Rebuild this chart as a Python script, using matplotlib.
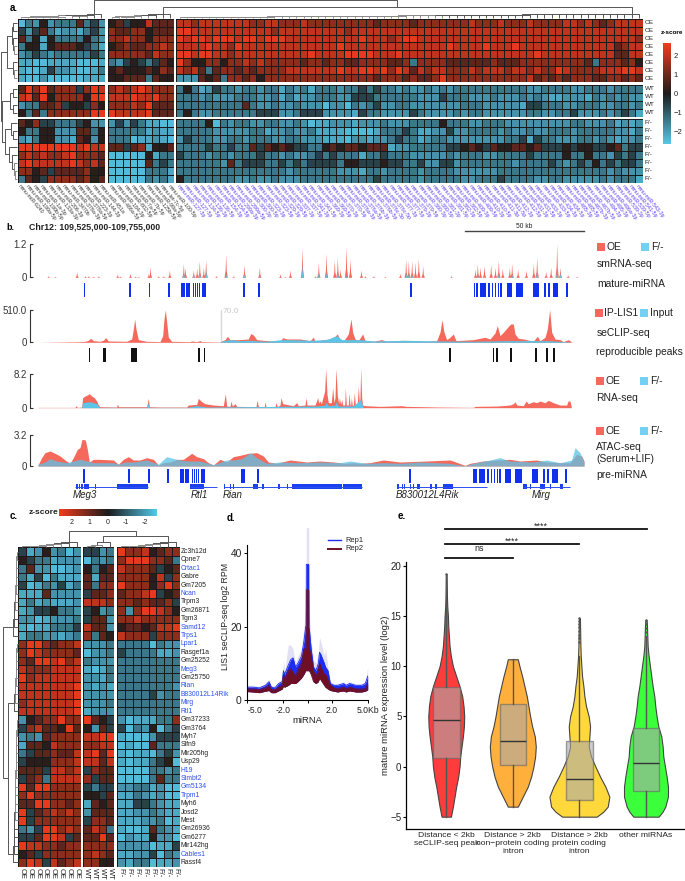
import numpy as np
import matplotlib
matplotlib.use('Agg')
import matplotlib.pyplot as plt
from matplotlib.colors import LinearSegmentedColormap
from matplotlib.patches import Rectangle

plt.rcParams['font.family'] = ['Liberation Sans', 'DejaVu Sans']

W, H = 685, 881

# z-score read for each colour step of the heatmap cells
LEVELS = [-2.5, -2.2, -1.85, -1.45, -0.6, 0.15, 0.8, 1.4, 2.0, 2.5]

# panel a, one string per sample, columns in three blocks
a_rows = ['OE', 'OE', 'OE', 'OE', 'OE', 'OE', 'OE', 'OE', 'WT', 'WT', 'WT', 'WT',
          'F/-', 'F/-', 'F/-', 'F/-', 'F/-', 'F/-', 'F/-', 'F/-']
a_block1 = ['032523336342', '424631221342', '635153333532', '355156665431', '234323333343',
            '110011110001', '100142210013', '100200000111',
            '697967774798', '896957777599', '233667455475', '536377777799',
            '657443334522', '533552226635', '213552216525', '999999998988',
            '787877897776', '898888898786', '775646666755', '365477776756']
a_block2 = ['564558666', '766775666', '778775777', '567667787', '777776877',
            '324543465', '565556576', '556663655',
            '787898777', '888988977', '777879666', '988889666',
            '242431100', '333331211', '333011210', '664671556',
            '000005133', '000006343', '000003331', '000003231']
a_block3 = ['8878888888 7788777877 7777777677 7767777777 8777877787 7778878767 8888',
            '9988888888 8887888888 8887888888 8888888888 8888888888 8888888888 8888',
            '9899899989 9899988888 8888898887 8998888888 8888888888 8888888888 8887',
            '8888988798 8888888888 8898888888 8888888988 8898889888 8888888888 6788',
            '9989988788 8888888898 8889999888 9888888888 8888888889 8888888888 6688',
            '9755775778 7877777677 6776677776 6737777666 6667666777 7777776377 7675',
            '8786367767 6777788888 8898899897 9868788777 8788878878 7798777788 8998',
            '2226563776 7577777777 7777777677 7676679777 7777777786 7676777667 7676',
            '3531243323 3233132313 3323343433 2322323233 3333333322 3333223332 3333',
            '3332322233 3223131223 3322444333 3332224333 2223222323 2112221323 2322',
            '3333333336 3223223222 0220323422 3322222223 3322222144 3332233322 3323',
            '3532233333 3444223444 2222143322 2243222232 3322222233 2233422232 3431',
            '3333503233 2233223201 1222122232 2233335333 2233322222 2222332223 1212',
            '3333322222 3312232231 1110000133 3431122422 3333232232 2333233333 2213',
            '2433322332 3332233222 1110221223 4331233222 2222233414 3322233232 1223',
            '3333433433 6465654433 5656656661 2233333445 6546556656 4445455445 6344',
            '4333233233 3433232234 3433313343 3322222323 3322333343 3335335332 4343',
            '3333332634 4433434344 4435544454 4334224423 3333332333 3432343534 3443',
            '3333333333 3333323333 3322213323 3332333322 2222333333 3333333332 3222',
            '5333333322 3223222333 3333333433 3332333332 2333433332 2332222232 3331']
a_cols_black = ['mmu-miR-6240', 'mmu-miR-199a-5p', 'mmu-miR-199b-5p', 'mmu-miR-1a-3p', 'mmu-miR-133a-3p',
                'mmu-miR-206-3p', 'mmu-miR-3470b', 'mmu-miR-378a-3p', 'mmu-miR-378a-5p', 'mmu-miR-223-3p',
                'mmu-miR-144-3p', 'mmu-miR-451a', 'mmu-miR-486a-5p', 'mmu-miR-184-3p', 'mmu-miR-802-5p',
                'mmu-miR-7a-5p', 'mmu-miR-7b-5p', 'mmu-miR-125b-5p', 'mmu-miR-99a-5p', 'mmu-let-7c-5p',
                'mmu-miR-100-5p']
a_cols_blue = ['mmu-miR-127-3p', 'mmu-miR-127-5p', 'mmu-miR-134-5p', 'mmu-miR-136-3p', 'mmu-miR-136-5p',
               'mmu-miR-154-3p', 'mmu-miR-154-5p', 'mmu-miR-299a-3p', 'mmu-miR-299a-5p', 'mmu-miR-300-3p',
               'mmu-miR-300-5p', 'mmu-miR-323-3p', 'mmu-miR-323-5p', 'mmu-miR-329-3p', 'mmu-miR-329-5p',
               'mmu-miR-337-3p', 'mmu-miR-337-5p', 'mmu-miR-341-3p', 'mmu-miR-341-5p', 'mmu-miR-369-3p',
               'mmu-miR-369-5p', 'mmu-miR-370-3p', 'mmu-miR-370-5p', 'mmu-miR-376a-3p', 'mmu-miR-376a-5p',
               'mmu-miR-376b-3p', 'mmu-miR-376b-5p', 'mmu-miR-376c-3p', 'mmu-miR-376c-5p', 'mmu-miR-377-3p',
               'mmu-miR-377-5p', 'mmu-miR-379-3p', 'mmu-miR-379-5p', 'mmu-miR-380-3p', 'mmu-miR-380-5p',
               'mmu-miR-381-3p', 'mmu-miR-381-5p', 'mmu-miR-382-3p', 'mmu-miR-382-5p', 'mmu-miR-409-3p',
               'mmu-miR-409-5p', 'mmu-miR-410-3p', 'mmu-miR-410-5p', 'mmu-miR-411-3p', 'mmu-miR-411-5p',
               'mmu-miR-412-3p', 'mmu-miR-412-5p', 'mmu-miR-431-3p', 'mmu-miR-431-5p', 'mmu-miR-433-3p',
               'mmu-miR-433-5p', 'mmu-miR-434-3p', 'mmu-miR-434-5p', 'mmu-miR-485-3p', 'mmu-miR-485-5p',
               'mmu-miR-487b-3p', 'mmu-miR-487b-5p', 'mmu-miR-494-3p', 'mmu-miR-495-3p', 'mmu-miR-496a-3p',
               'mmu-miR-539-3p', 'mmu-miR-539-5p', 'mmu-miR-541-5p', 'mmu-miR-543-3p']

# panel c, genes by samples
c_genes = ['Zc3h12d', 'Cpne7', 'Crtac1', 'Gabre', 'Gm7205', 'Ncan', 'Trpm3', 'Gm26871', 'Tgm3', 'Samd12', 'Trps1',
           'Lpar1', 'Rasgef1a', 'Gm25252', 'Meg3', 'Gm25750', 'Rian', 'B830012L14Rik', 'Mirg', 'Rtl1',
           'Gm37233', 'Gm3764', 'Myh7', 'Slfn9', 'Mir205hg', 'Usp29', 'H19', 'Stmbt2', 'Gm5134', 'Trpm1',
           'Myh6', 'Josd2', 'Mest', 'Gm26936', 'Gm6277', 'Mir142hg', 'Cables1', 'Rassf4']
c_blue = ['Crtac1', 'Ncan', 'Samd12', 'Trps1', 'Lpar1', 'Meg3', 'Rian', 'B830012L14Rik', 'Mirg', 'Rtl1',
          'H19', 'Stmbt2', 'Gm5134', 'Trpm1', 'Cables1']
c_samples = ['OE'] * 8 + ['WT'] * 4 + ['F/-'] * 8
c_values = ['41252302 4423 97785677', '54331222 0323 79997763', '36220012 5356 87776456',
            '31403111 6166 77775847', '40132413 6377 97775797', '11162222 4667 67789456',
            '13121112 8887 77676674', '12445332 4523 72799875', '22012223 4662 77877777',
            '10113334 8662 56656889', '13322123 7365 87774777',
            '79976778 2223 33330322', '79877776 0223 43333112', '76998978 3222 33333333',
            '87778888 1013 33333333', '97888888 2213 33333333', '88888889 2121 33333332',
            '88888889 2222 33334233', '78888889 2223 33333333', '88888889 1222 33333333',
            '25677977 9654 20111337', '47866596 5264 40325034', '23267777 8899 10002444',
            '16658777 7788 01006333', '34667668 8969 10110342', '45557778 8868 10113450',
            '66648878 4766 00003323', '46738888 7466 00003633', '96997777 4344 22331200',
            '79777777 5546 11321200', '66997767 1656 11443211', '94678787 2666 11223211',
            '94777777 4776 11122301', '32499787 6873 10016321', '44699846 6696 02115220',
            '98877677 7777 22220114', '56477777 7876 11224032', '79848678 7755 21330112']

# panel b, tracks in signal units of the track height, position along the locus
sm_oe_pos = [145, 165, 230, 255, 265, 280, 295, 352, 360, 390, 405, 415, 445, 450, 475, 490, 508, 550, 555, 580, 590,
             598, 610, 617, 648, 677, 700, 732, 778, 840, 855, 870, 906, 945, 955, 978, 1003, 1012, 1020, 1038, 1050,
             1083, 1095, 1120, 1155, 1200, 1217, 1225, 1235, 1245, 1255, 1268, 1353, 1425, 1432, 1440, 1452, 1472,
             1485, 1495, 1507, 1528, 1535, 1553, 1578, 1600, 1610, 1637, 1652, 1670, 1680, 1703, 1730]
sm_oe_val = [5, 3, 17, 5, 5, 4, 5, 10, 4, 12, 4, 3, 12, 32, 5, 5, 22, 42, 30, 22, 28, 50, 30, 52, 5, 70, 5, 38, 30, 10,
             3, 22, 88, 5, 45, 72, 52, 60, 25, 92, 55, 22, 5, 5, 3, 12, 55, 50, 50, 45, 58, 35, 5, 25, 40, 30, 35, 40,
             30, 52, 28, 30, 42, 25, 22, 42, 60, 18, 30, 100, 30, 8, 3]
sm_ko_pos = [550, 580, 598, 617, 677, 732, 778, 906, 955, 978, 1012, 1038, 1217, 1225, 1235, 1432, 1495, 1535, 1610,
             1670, 1680]
sm_ko_val = [20, 12, 18, 28, 12, 10, 8, 38, 15, 15, 28, 5, 18, 12, 10, 10, 10, 10, 25, 25, 15]

clip_ip_pos = [114, 240, 255, 265, 272, 280, 300, 310, 317, 325, 380, 395, 400, 404, 408, 415, 440, 480, 488, 492, 496,
               500, 505, 515, 570, 575, 590, 600, 605, 660, 665, 675, 682, 690, 720, 745, 752, 760, 770, 800, 840, 848,
               860, 900, 930, 940, 945, 970, 990, 1005, 1012, 1018, 1025, 1030, 1045, 1053, 1058, 1065, 1075, 1088,
               1095, 1120, 1145, 1160, 1205, 1280, 1310, 1320, 1326, 1332, 1340, 1350, 1360, 1368, 1420, 1455, 1470,
               1485, 1492, 1500, 1510, 1527, 1532, 1540, 1545, 1555, 1570, 1600, 1612, 1620, 1635, 1642, 1649, 1655,
               1665, 1680, 1690, 1705, 1715]
clip_ip_val = [0, 2, 3, 6, 12, 5, 3, 6, 14, 4, 3, 10, 40, 70, 40, 8, 3, 2, 20, 70, 97, 60, 15, 3, 2, 4, 2, 5, 2, 1, 4,
               8, 18, 8, 8, 10, 26, 22, 8, 5, 2, 14, 10, 10, 5, 15, 4, 8, 10, 18, 25, 12, 5, 3, 25, 70, 30, 10, 5, 25,
               5, 3, 8, 3, 6, 3, 5, 30, 68, 30, 8, 15, 25, 5, 8, 15, 10, 28, 50, 20, 30, 50, 55, 55, 25, 12, 10, 3,
               18, 5, 15, 40, 98, 30, 10, 8, 2, 8, 1]
clip_in_pos = [660, 670, 690, 720, 745, 800, 845, 900, 930, 980, 1010, 1025, 1080, 1120, 1220, 1320, 1420, 1520, 1645, 1710]
clip_in_val = [1, 5, 8, 5, 6, 3, 8, 7, 6, 8, 20, 8, 8, 4, 6, 4, 3, 5, 5, 1]

rna_oe_pos = [114, 225, 228, 232, 245, 248, 255, 262, 268, 275, 283, 290, 295, 300, 350, 352, 356, 440, 445, 448, 480,
              560, 565, 590, 595, 605, 615, 640, 670, 676, 680, 690, 693, 697, 705, 710, 768, 771, 775, 793, 795, 798,
              825, 828, 832, 840, 843, 848, 880, 890, 895, 915, 918, 921, 945, 953, 956, 960, 964, 970, 974, 977, 981,
              985, 994, 998, 1002, 1005, 1008, 1012, 1016, 1018, 1022, 1025, 1028, 1034, 1036, 1039, 1045, 1047, 1050,
              1052, 1054, 1057, 1060, 1063, 1066, 1072, 1075, 1078, 1080, 1082, 1085, 1088, 1095, 1140, 1205, 1220,
              1320, 1420, 1425, 1490, 1530, 1540, 1545, 1550, 1570, 1578, 1585, 1600, 1610, 1620, 1635, 1645, 1660,
              1680, 1700, 1704, 1710, 1714]
rna_oe_val = [1, 1, 6, 1, 2, 30, 35, 38, 42, 35, 30, 20, 8, 3, 2, 10, 3, 3, 28, 3, 2, 2, 8, 10, 28, 18, 12, 8, 6, 42,
              5, 4, 20, 5, 12, 4, 3, 22, 4, 3, 18, 3, 3, 15, 3, 8, 30, 12, 6, 15, 6, 8, 30, 8, 8, 30, 14, 20, 12, 35,
              50, 118, 40, 15, 15, 60, 15, 30, 118, 35, 12, 30, 10, 25, 8, 8, 60, 8, 8, 45, 8, 8, 30, 6, 8, 45, 8, 15,
              65, 12, 30, 118, 30, 8, 6, 4, 6, 4, 2, 1, 4, 5, 8, 12, 18, 8, 6, 20, 12, 18, 15, 20, 15, 22, 15, 8, 8,
              20, 20, 1]
rna_ko_pos = [245, 248, 270, 290, 298, 440, 445, 448, 560, 590, 620, 950, 975, 978, 985, 1005, 1008, 1015, 1060, 1082,
              1090]
rna_ko_val = [1, 15, 18, 12, 1, 1, 15, 1, 1, 6, 2, 5, 8, 16, 6, 8, 18, 5, 5, 25, 1]

atac_oe_pos = [114, 125, 135, 150, 165, 180, 195, 210, 220, 232, 240, 246, 256, 262, 268, 280, 300, 340, 355, 370, 385,
               400, 420, 440, 460, 475, 490, 510, 530, 550, 575, 590, 610, 625, 640, 660, 680, 700, 720, 745, 770, 790,
               805, 830, 870, 920, 960, 1000, 1035, 1060, 1080, 1110, 1150, 1200, 1280, 1350, 1395, 1410, 1450, 1490,
               1530, 1560, 1610, 1640, 1680, 1710, 1730, 1745, 1752]
atac_oe_val = [3, 25, 40, 45, 38, 30, 18, 8, 25, 50, 55, 80, 78, 50, 12, 20, 20, 18, 5, 20, 28, 18, 18, 25, 20, 3, 10,
               12, 20, 20, 38, 28, 22, 10, 3, 20, 12, 28, 32, 38, 40, 30, 12, 8, 18, 12, 15, 12, 8, 10, 8, 10, 18, 12,
               15, 18, 2, 8, 15, 18, 20, 15, 18, 12, 10, 10, 35, 30, 15]
atac_ko_pos = [114, 135, 150, 170, 200, 240, 262, 280, 340, 355, 375, 400, 440, 475, 500, 530, 560, 600, 625, 640, 680,
               700, 725, 752, 770, 800, 840, 900, 960, 1020, 1050, 1100, 1150, 1200, 1260, 1350, 1395, 1420, 1470, 1500,
               1530, 1600, 1640, 1680, 1715, 1725, 1740, 1752]
atac_ko_val = [5, 12, 22, 15, 10, 20, 15, 10, 10, 5, 12, 12, 18, 5, 28, 20, 15, 15, 8, 4, 18, 18, 22, 40, 25, 8, 12,
               10, 12, 10, 15, 8, 10, 8, 12, 8, 1, 8, 18, 25, 15, 12, 18, 10, 18, 55, 40, 12]

mature_pos = [253, 390, 449, 508, 549, 564, 580, 586, 592, 598, 612, 732, 778, 1233, 1424, 1431, 1449, 1468, 1477,
              1486, 1495, 1503, 1528, 1553, 1565, 1608, 1635, 1648, 1668, 1701]
mature_w = [5, 5, 5, 5, 10, 11, 4, 4, 4, 4, 12, 8, 5, 5, 5, 5, 18, 5, 4, 4, 4, 4, 16, 12, 9, 17, 6, 6, 15, 5]
pre_pos = [251, 387, 446, 505, 547, 561, 577, 583, 589, 595, 610, 729, 775, 1231, 1421, 1428, 1446, 1465, 1474,
           1483, 1492, 1500, 1525, 1550, 1562, 1605, 1632, 1645, 1665, 1699]
pre_w = [6, 6, 6, 6, 11, 12, 4, 4, 4, 4, 12, 10, 6, 6, 6, 6, 19, 6, 4, 4, 4, 4, 17, 12, 10, 19, 6, 6, 16, 6]
peak_pos = [269, 314, 402, 597, 614, 1351, 1481, 1491, 1533, 1608, 1642, 1662]
peak_w = [5, 10, 17, 5, 5, 5, 5, 5, 5, 5, 5, 5]

gene_spans = {'Meg3': (225, 445), 'Rtl1': (570, 650), 'Rian': (672, 1085), 'B830012L4Rik': (1190, 1460),
              'Mirg': (1570, 1710)}
gene_exons = {'Meg3': [(228, 5), (236, 4), (244, 6), (252, 8), (260, 6), (285, 4), (350, 95)],
              'Rtl1': [(570, 42)],
              'Rian': [(672, 2), (680, 2), (690, 2), (700, 2), (760, 15), (785, 8), (835, 4), (860, 4), (877, 50),
                       (927, 100), (1030, 15), (1045, 40)],
              'B830012L4Rik': [(1190, 8), (1205, 3), (1212, 2), (1220, 2), (1230, 3), (1240, 2), (1250, 10),
                               (1290, 6), (1305, 6), (1328, 30)],
              'Mirg': [(1570, 12), (1590, 4), (1620, 14), (1650, 4), (1680, 10)]}

# panel d
d_kb = [-5, -4.5, -4, -3.5, -3.2, -3, -2.7, -2.4, -2.1, -2, -1.9, -1.6, -1.4, -1.2, -1, -0.8, -0.5, -0.3, -0.15, -0.11,
        -0.1, 0.1, 0.11, 0.15, 0.3, 0.5, 0.7, 0.9, 1, 1.1, 1.4, 1.5, 1.7, 1.9, 2.2, 2.5, 3, 3.2, 3.5, 4, 4.5, 4.8, 5]
rep1_hi = [3.5, 3.5, 3.3, 4, 5, 3.5, 3.3, 4.5, 5, 8, 7, 9.5, 11, 11.5, 9, 10, 12, 16, 20, 20, 37, 37, 19.5, 19.5, 14,
           9, 8, 10, 13, 12.5, 10, 9, 8, 4.5, 4, 4, 4.5, 4, 4.5, 4, 4, 4.5, 6.5]
rep2_hi = [3, 3, 2.8, 3.3, 4, 2.8, 2.8, 3.5, 4, 7, 5.5, 8, 8.5, 7.5, 6.5, 8, 10, 14, 14, 14, 30, 30, 14, 14, 12, 8, 6.5,
           8, 10, 9, 7, 7, 5.5, 4, 3.3, 3, 3.5, 3, 3.5, 3, 3, 3, 4.5]
rep2_lo = [2.3, 2.2, 2, 2.4, 2.6, 2, 2, 2.5, 3, 3.8, 3.5, 4, 4.5, 4.5, 4.5, 5, 6, 7, 8, 8, 8, 8, 8, 8, 7, 5, 4.5, 5, 6,
           5.5, 4, 3.5, 3, 2.6, 2.4, 2.2, 2.5, 2.2, 2.5, 2.2, 2.2, 2.4, 2.8]
rep_err = [4, 4, 3.8, 4.5, 5.5, 4, 4, 5, 6, 11, 8, 15, 15, 14, 10, 12, 14, 20, 26, 30, 47, 47, 30, 24, 16, 11, 10, 13,
           17, 16, 12, 14, 9, 5, 4.5, 4.5, 5, 4.5, 5, 4.5, 4.5, 5, 9]

# panel e
e_labels = ['Distance < 2kb\nseCLIP-seq peak', 'Distance > 2kb\nnon\u2212protein coding\nintron',
            'Distance > 2kb\nprotein coding\nintron', 'other miRNAs']
e_colors = ['#ff3c3c', '#ffb03c', '#ffd83c', '#3cff3c']
v1_y = [-5, -4, -3, -2, -1, 0, 1, 2, 3, 4, 5, 6, 7, 8, 9, 10, 11, 12, 13, 14, 15, 16, 17, 18, 19.2]
v1_w = [14, 20, 25, 30, 36, 40, 42, 46, 50, 53, 54, 52, 48, 40, 30, 20, 14, 10, 8, 6, 5, 3, 2, 1.5, 1]
v2_y = [-4, -3, -2, -1, 0, 1, 2, 3, 4, 5, 6, 7, 8, 9, 10, 10.7]
v2_w = [15, 30, 45, 55, 62, 67, 69, 66, 58, 52, 47, 42, 35, 28, 20, 15]
v3_y = [-5, -4.5, -4, -3, -2, -1, 0, 1, 2, 3, 4, 5, 6, 7, 8, 9, 10, 11, 12, 13, 14, 14.8]
v3_w = [52, 72, 85, 90, 78, 62, 48, 35, 28, 30, 32, 28, 20, 15, 12, 8, 6, 4, 3, 2.5, 2, 1.5]
v4_y = [-5, -4.5, -4, -3, -2, -1, 0, 1, 2, 3, 4, 5, 6, 7, 8, 9, 10, 11, 12, 13, 14, 14.6]
v4_w = [38, 50, 58, 66, 66, 62, 57, 52, 50, 46, 37, 32, 28, 25, 20, 16, 12, 8, 5, 4, 3, 2]
box_q1 = [0.9, 0.2, -3.3, -2.4]
box_med = [4.6, 2.5, -1.2, 0.4]
box_q3 = [7.9, 6.2, 2.5, 3.8]
box_lo = [-5, -4, -5, -5]
box_hi = [19, 10.7, 11, 13]
box_out = [[19.2], [], [12.4, 12.8, 13.1, 13.5, 13.9, 14.2, 14.5, 14.8], [13.4, 13.8, 14.2, 14.6]]

cmap = LinearSegmentedColormap.from_list('cz', ['#55c8e8', '#1c1c1c', '#f43c1c'])
ZLIM = 2.69
RED = '#f4695c'
CYAN = '#5cc4e6'

fig = plt.figure(figsize=(W / 100, H / 100), dpi=100)


def axpx(x0, y0, x1, y1, **kw):
    return fig.add_axes([x0 / W, 1 - y1 / H, (x1 - x0) / W, (y1 - y0) / H], **kw)


def decode(rows):
    return np.array([[LEVELS[int(c)] for c in r.replace(' ', '')] for r in rows])


def heat(x0, y0, x1, y1, data):
    ax = axpx(x0, y0, x1, y1)
    ax.pcolormesh(data, cmap=cmap, vmin=-ZLIM, vmax=ZLIM, edgecolors='#1a1a1a', linewidth=0.4)
    ax.set_ylim(data.shape[0], 0)
    ax.axis('off')
    return ax


def chain(first, heights):
    node = first
    for i, h in enumerate(heights):
        node = (h, node, first + i + 1)
    return node


def draw_tree(ax, node, pos, base, sign, vertical):
    # returns leaf position and height of node
    if not isinstance(node, tuple):
        return pos[node], 0
    h, left, right = node
    p0, h0 = draw_tree(ax, left, pos, base, sign, vertical)
    p1, h1 = draw_tree(ax, right, pos, base, sign, vertical)
    a = [p0, p0, p1, p1]
    b = [base - sign * h0, base - sign * h, base - sign * h, base - sign * h1]
    col = '#555555' if h > 3 else '#8a8a8a'
    if vertical:
        ax.plot(a, b, color=col, lw=0.7, solid_capstyle='butt')
    else:
        ax.plot(b, a, color=col, lw=0.7, solid_capstyle='butt')
    return (p0 + p1) / 2, h


def track(y_top, y_bot, top_val, top_label):
    ax = axpx(38, y_top, 584, y_bot)
    ax.set_xlim(114, 1752)
    ax.set_ylim(0, top_val)
    for s in ['top', 'right', 'bottom']:
        ax.spines[s].set_visible(False)
    ax.spines['left'].set_position(('outward', 5.8))
    ax.spines['left'].set_linewidth(0.8)
    ax.spines['left'].set_color('#333333')
    ax.set_xticks([])
    ax.set_yticks([0, top_val], ['0', top_label])
    ax.tick_params(axis='y', direction='in', length=2.5, width=0.8, labelsize=7, pad=2, color='#333333',
                   labelcolor='#333333')
    ax.patch.set_alpha(0)
    return ax


def spikes(ax, pos, val, color, half=5):
    for p, v in zip(pos, val):
        ax.fill_between([p - half, p - half / 3, p, p + half / 3, p + half], [0, v * 0.3, v, v * 0.3, 0],
                        color=color, lw=0)


def bars(y0, y1, pos, widths, color):
    ax = axpx(38, y0, 584, y1)
    ax.set_xlim(114, 1752)
    ax.set_ylim(0, 1)
    ax.bar(pos, 1, width=widths, color=color, lw=0)
    ax.axis('off')


# panel a
a1 = decode(a_block1)
a2 = decode(a_block2)
a3 = decode(a_block3)
a_x = [(17.5, 105), (108, 174), (176, 642.7)]
a_y = [(18.7, 82), (85, 116.7), (119, 182.7)]
a_split = [(0, 8), (8, 12), (12, 20)]
for (x0, x1), mat in zip(a_x, [a1, a2, a3]):
    for (y0, y1), (r0, r1) in zip(a_y, a_split):
        heat(x0, y0, x1, y1, mat[r0:r1])

# panel c
c_mat = decode(c_values)
c_split = np.cumsum([0, 8, 4, 8])
c_x = [(18, 81), (83, 114), (117, 180)]
for (x0, x1), c0, c1 in zip(c_x, c_split[:-1], c_split[1:]):
    heat(x0, 547.3, x1, 866.7, c_mat[:, c0:c1])

# overlay in pixel units for text, dendrograms and legends
ov = fig.add_axes([0, 0, 1, 1], zorder=10)
ov.set_xlim(0, W)
ov.set_ylim(H, 0)
ov.axis('off')
ov.patch.set_alpha(0)

# dendrograms of panel a
a_leaf_x = np.concatenate([np.linspace(x0, x1, n + 1)[:-1] + (x1 - x0) / n / 2
                           for (x0, x1), n in zip(a_x, [12, 9, 64])])
a_leaf_y = np.concatenate([np.linspace(y0, y1, n + 1)[:-1] + (y1 - y0) / n / 2
                           for (y0, y1), n in zip(a_y, [8, 4, 8])])
g1_h = [1.2, 1.6, 2, 1.2, 2.4, 1.5, 2.8, 3.2, 1.8, 3.6, 4.6]
g2_h = [1.2, 1.8, 1.4, 2.2, 2.8, 3.2, 3.9, 4.7]
g3_h = [1.0 + 3.5 * i / 62 for i in range(63)]
a_top = (18, chain(0, g1_h), (11.7, chain(12, g2_h), chain(21, g3_h)))
draw_tree(ov, a_top, a_leaf_x, 18.2, 1, True)
a_left = (16.5, (9.5, (5, (3.5, 0, 1), (4, 2, (3, 3, 4))), (4, 5, (3, 6, 7))),
          (14.5, (7, (4, 8, 9), (4, 10, 11)), (12, (6, 12, (4, 13, 14)), (8, 15, (5, 16, (3, 17, (2, 18, 19)))))))
draw_tree(ov, a_left, a_leaf_y, 17, 1, False)

# dendrograms of panel c
c_leaf_x = np.concatenate([np.linspace(x0, x1, n + 1)[:-1] + (x1 - x0) / n / 2
                           for (x0, x1), n in zip(c_x, [8, 4, 8])])
c_leaf_y = 547.3 + (np.arange(38) + 0.5) * (866.7 - 547.3) / 38
cA_h = [1, 1.4, 1.8, 1.4, 2, 2.4, 2.8, 3.2, 3.6, 4.2]
cB_h = [1, 1.2, 1.4, 1.6, 1.8, 2.2, 2.6, 3.6]
cC_h = [0.8, 1, 1.2, 1.4, 1.6, 1.8, 2, 2.2, 2.4, 2.6, 2.8, 3, 3.2, 3.4, 3.6, 3.8, 4.6]
c_left = (14.5, chain(0, cA_h), (10, chain(11, cB_h), chain(20, cC_h)))
draw_tree(ov, c_left, c_leaf_y, 17.6, 1, False)
cT1_h = [1, 1.5, 1.2, 2, 2.8, 3.6, 5.5]
cT2_h = [1.2, 2, 5]
cT3_h = [1, 1.5, 1.2, 2, 2.8, 3.6, 5.5]
c_top = (16.5, chain(0, cT1_h), (11.5, chain(8, cT2_h), chain(12, cT3_h)))
draw_tree(ov, c_top, c_leaf_x, 547, 1, True)

# heatmap labels of panel a
for name, y in zip(a_rows, a_leaf_y):
    ov.text(645, y, name, fontsize=4.6, va='center', ha='left', color='#222222')
for name, x in zip(a_cols_black + a_cols_blue, a_leaf_x):
    col = '#333333' if name in a_cols_black else '#5a3cf0'
    ov.text(x - 2, 185.5, name, fontsize=3.8, rotation=-50, rotation_mode='anchor', ha='left', va='center', color=col)

# heatmap labels of panel c
for name, y in zip(c_genes, c_leaf_y):
    ov.text(181, y, name, fontsize=4.9, va='center', ha='left', color='#2a50f0' if name in c_blue else '#222222')
for name, x in zip(c_samples, c_leaf_x):
    ov.text(x, 868.5, name, fontsize=5.4, rotation=270, va='top', ha='center', color='#222222')

# colourbars
cb_grad = np.linspace(ZLIM, -ZLIM, 256)[:, None]
cba = axpx(663, 43, 671, 144)
cba.imshow(cb_grad, cmap=cmap, vmin=-ZLIM, vmax=ZLIM, aspect='auto', extent=[0, 1, -ZLIM, ZLIM])
cba.set_xticks([])
cba.yaxis.tick_right()
cba.set_yticks([2, 1, 0, -1, -2], ['2', '1', '0', '\u22121', '\u22122'])
cba.tick_params(length=0, labelsize=5.5, pad=2, labelcolor='#222222')
for s in cba.spines.values():
    s.set_visible(False)
ov.text(672, 33, 'z-score', fontsize=4.6, fontweight='bold', ha='center', va='center')

cbc = axpx(59, 509, 157, 516)
cbc.imshow(cb_grad.T, cmap=cmap, vmin=-ZLIM, vmax=ZLIM, aspect='auto', extent=[ZLIM, -ZLIM, 0, 1])
cbc.set_yticks([])
cbc.set_xticks([2, 1, 0, -1, -2], ['2', '1', '0', '-1', '-2'])
cbc.tick_params(length=0, labelsize=5, pad=2.5, labelcolor='#222222')
for s in cbc.spines.values():
    s.set_visible(False)
ov.text(44, 512, 'z-score', fontsize=6, fontweight='bold', ha='center', va='center', color='#222222')

# panel b tracks
t1 = track(244, 277.3, 100, '1.2')
spikes(t1, sm_oe_pos, sm_oe_val, RED)
spikes(t1, sm_ko_pos, sm_ko_val, CYAN, half=4)

t2 = track(310, 342.3, 97, '510.0')
t2.fill_between(clip_ip_pos, clip_ip_val, color=RED, lw=0)
t2.fill_between(clip_in_pos, clip_in_val, color=CYAN, lw=0)
t2.axvline(662, color='#d8d8d8', lw=1)
t2.text(669, 93, '70.0', fontsize=6, color='#c8c8c8', va='center')

t3 = track(373.7, 407.7, 102, '8.2')
t3.fill_between(rna_oe_pos, rna_oe_val, color=RED, lw=0, clip_on=False)
t3.fill_between(rna_ko_pos, rna_ko_val, color=CYAN, lw=0)

t4 = track(435, 466, 93, '3.2')
t4.fill_between(atac_oe_pos, atac_oe_val, color=RED, lw=0)
t4.fill_between(atac_ko_pos, atac_ko_val, color=CYAN, lw=0, alpha=0.75)

bars(283, 297, mature_pos, mature_w, '#1030f0')
bars(348, 362, peak_pos, peak_w, '#111111')
bars(469, 483, pre_pos, pre_w, '#1030f0')

gene_ax = axpx(38, 483, 584, 490)
gene_ax.set_xlim(114, 1752)
gene_ax.set_ylim(-1, 1)
gene_ax.axis('off')
for g, (s, e) in gene_spans.items():
    gene_ax.hlines(0, s, e, color='#2a50f0', lw=0.7)
    gene_ax.broken_barh(gene_exons[g], (-0.6, 1.2), color='#1a40f0', lw=0)
for name, x in zip(['Meg3', 'Rtl1', 'Rian', 'B830012L4Rik', 'Mirg'], [85, 199.5, 233, 427, 541]):
    ov.text(x, 495, name, fontsize=7, style='italic', ha='center', va='center', color='#222222')

ov.text(6, 227, 'b.', fontsize=6.5, fontweight='bold', va='center')
ov.text(29, 227, 'Chr12: 109,525,000-109,755,000', fontsize=6.3, fontweight='bold', va='center', color='#222222')
ov.plot([465, 584], [231, 231], color='#444444', lw=1)
ov.text(524, 226, '50 kb', fontsize=4.8, ha='center', va='center', color='#222222')

side_legend = [(597, 641, 247, 'OE', 'F/-'), (595, 640, 313, 'IP-LIS1', 'Input'),
               (596, 640, 381, 'OE', 'F/-'), (596, 640, 431, 'OE', 'F/-')]
for x0, x1, y, s0, s1 in side_legend:
    ov.add_patch(Rectangle((x0, y - 4), 8, 8, color=RED, lw=0))
    ov.add_patch(Rectangle((x1, y - 4), 8, 8, color='#73d0f2', lw=0))
    ov.text(x0 + 9.5, y, s0, fontsize=7.4, va='center', color='#222222')
    ov.text(x1 + 10, y, s1, fontsize=7.4, va='center', color='#222222')
side_text = [(597, 264, 'smRNA-seq'), (597, 284, 'mature-miRNA'), (597, 333, 'seCLIP-seq'),
             (596, 352, 'reproducible peaks'), (596, 398, 'RNA-seq'), (596, 447, 'ATAC-seq'),
             (596, 459, '(Serum+LIF)'), (596, 475, 'pre-miRNA')]
for x, y, s in side_text:
    ov.text(x, y, s, fontsize=7.4, va='center', color='#222222')

# panel d
d = axpx(247.3, 545, 367.7, 700)
d.set_xlim(-5, 5)
d.set_ylim(0, 155 / 3.667)
d.fill_between(d_kb, rep2_lo, rep_err, color='#c9c9ea', alpha=0.55, lw=0, clip_on=False)
d.fill_between(d_kb, rep2_lo, rep1_hi, color='#1c2cf0', lw=0)
d.plot(d_kb, rep1_hi, color='#1c2cf0', lw=0.6)
d.fill_between(d_kb, rep2_lo, rep2_hi, color='#6e0f26', lw=0)
d.plot(d_kb, rep2_hi, color='#6e0f26', lw=0.6)
d.plot(d_kb, rep2_lo, color='#6e0f26', lw=0.6)
d.set_xticks([-5, -2, 0, 2, 5], ['-5.0', '-2.0', '', '2.0', '5.0Kb'])
d.get_xticklabels()[0].set_ha('left')
d.set_yticks([0, 20, 40])
d.tick_params(labelsize=6.2, length=2, width=0.7, pad=2, labelcolor='#222222')
d.tick_params(axis='y', labelsize=7.4)
d.set_xlabel('miRNA', fontsize=6.8, labelpad=1, color='#222222')
d.set_ylabel('LIS1 seCLIP-seq log2 RPM', fontsize=6.3, labelpad=0, color='#222222', y=0.54)
for s in ['top', 'right']:
    d.spines[s].set_visible(False)
for s in ['left', 'bottom']:
    d.spines[s].set_linewidth(0.8)
ov.plot([328, 341], [540, 540], color='#1c2cf0', lw=1)
ov.plot([328, 341], [549, 549], color='#6e0f26', lw=1.4)
ov.text(345, 540, 'Rep1', fontsize=5.4, va='center', color='#222222')
ov.text(345, 549, 'Rep2', fontsize=5.4, va='center', color='#222222')

# panel e
e = axpx(406.3, 561.7, 685, 829.3)
e.set_xlim(0.4, 4.586)
e.set_ylim(-6.26, 20.43)
profiles = [(v1_y, v1_w), (v2_y, v2_w), (v3_y, v3_w), (v4_y, v4_w)]
for i, ((vy, vw), col) in enumerate(zip(profiles, e_colors)):
    w = np.array(vw) / 200
    e.fill_betweenx(vy, i + 1 - w, i + 1 + w, facecolor=col, edgecolor='#444444', lw=0.8, zorder=2)
stats = [dict(q1=a, med=b, q3=c, whislo=lo, whishi=hi, fliers=o)
         for a, b, c, lo, hi, o in zip(box_q1, box_med, box_q3, box_lo, box_hi, box_out)]
e.bxp(stats, positions=[1, 2, 3, 4], widths=0.4, patch_artist=True, showcaps=False, zorder=3, manage_ticks=False,
      boxprops=dict(facecolor='#aaaaaa', edgecolor='#666666', alpha=0.6, lw=1),
      medianprops=dict(color='#333333', lw=1),
      whiskerprops=dict(color='#555555', lw=1),
      flierprops=dict(marker='o', markersize=1.8, markerfacecolor='#555555', markeredgecolor='none'))
e.set_xticks([1, 2, 3, 4], e_labels)
e.set_yticks([-5, 0, 5, 10, 15, 20], ['\u22125', '0', '5', '10', '15', '20'])
e.tick_params(axis='x', length=0, labelsize=6.1, pad=2, labelcolor='#222222')
e.tick_params(axis='y', length=2, labelsize=7, pad=1.5, labelcolor='#222222')
e.set_ylabel('mature miRNA expression level (log2)', fontsize=6.8, labelpad=0.5, color='#222222')
for s in ['top', 'right']:
    e.spines[s].set_visible(False)
for s in ['left', 'bottom']:
    e.spines[s].set_linewidth(0.9)
sig_tests = [(4.01, 23.7, '****', 2.42, 24.0), (3.0, 22.2, '****', 1.99, 22.5), (2.0, 20.8, 'ns', 1.49, 21.7)]
for x1, y, s, tx, ty in sig_tests:
    e.plot([0.975, x1], [y, y], color='#111111', lw=1.3, clip_on=False)
    e.text(tx, ty, s, fontsize=6.5, ha='center', va='center', clip_on=False, color='#222222')

ov.text(10, 8, 'a.', fontsize=7, fontweight='bold', va='center')
ov.text(10, 516, 'c.', fontsize=7, fontweight='bold', va='center')
ov.text(227, 518, 'd.', fontsize=7, fontweight='bold', va='center')
ov.text(398, 516, 'e.', fontsize=7, fontweight='bold', va='center')

fig.savefig('out.png', dpi=100)
